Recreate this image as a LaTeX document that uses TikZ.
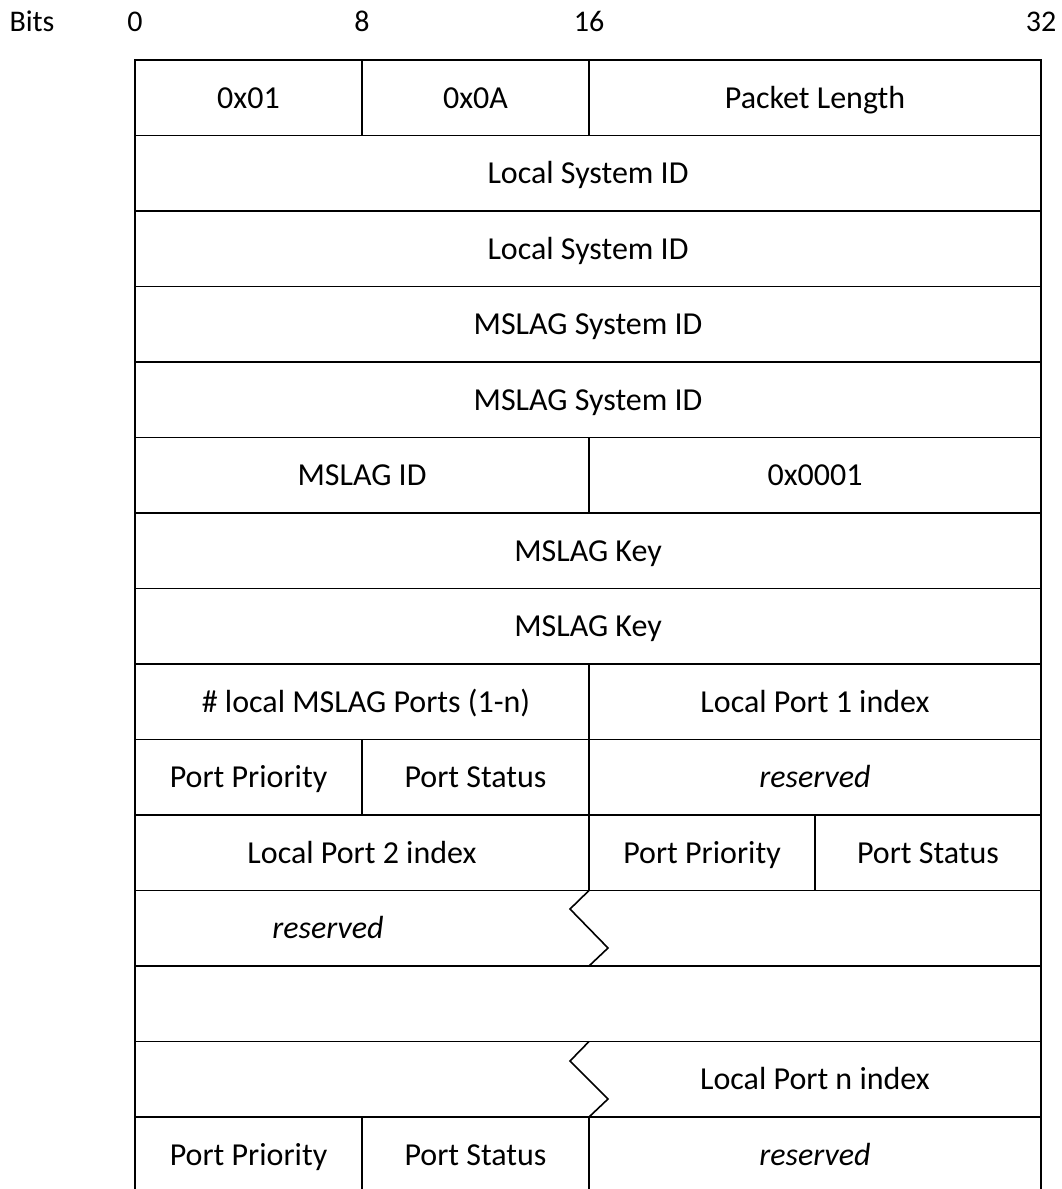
\documentclass[tikz,border=0pt]{standalone}
\usepackage{fontspec}
\setmainfont{Carlito}
\begin{document}
\begin{tikzpicture}[x=1pt,y=-1pt,
  grid/.style={line width=1.6pt, line cap=rect},
  cell/.style={inner sep=0pt, anchor=base, font=\fontsize{32}{38}\selectfont},
  hdr/.style={inner sep=0pt, anchor=base, font=\fontsize{30}{36}\selectfont}]
\useasboundingbox (0,0) rectangle (1061,1189);

% column positions (bit offsets 0, 8, 16, 24, 32)
\def\ca{135}\def\cb{362}\def\cc{589}\def\cd{815}\def\ce{1041}
% baseline offset below a row's middle line
\def\bo{10.5}

% header
\node[hdr] (bits) at (32,31.7) {Bits};
\node[hdr] (b0) at (\ca,31.7) {0};
\node[hdr] (b8) at (\cb,31.7) {8};
\node[hdr] (b16) at (\cc,31.7) {16};
\node[hdr] (b32) at (\ce,31.7) {32};

% horizontal rules, one per row boundary
\foreach \y in {60,135.5,211,286.5,362,437.5,513,588.5,664,739.5,815,890.5,966,1041.5,1117}
  \draw[grid] (\ca,\y) -- (\ce,\y);

% outer sides, left open at the bottom
\draw[grid] (\ca,60) -- (\ca,1189);
\draw[grid] (\ce,60) -- (\ce,1189);

% field dividers
\draw[grid] (\cb,60) -- (\cb,135.5);
\draw[grid] (\cc,60) -- (\cc,135.5);
\draw[grid] (\cc,437.5) -- (\cc,513);
\draw[grid] (\cc,664) -- (\cc,890.5);
\draw[grid] (\cb,739.5) -- (\cb,815);
\draw[grid] (\cd,815) -- (\cd,890.5);
\draw[grid] (\cb,1117) -- (\cb,1189);
\draw[grid] (\cc,1117) -- (\cc,1189);

% break marks for the variable-length port list
\draw[grid, line join=miter, line cap=butt] (\cc,890.5) -- (570,909) -- (608,948) -- (\cc,966);
\draw[grid, line join=miter, line cap=butt] (\cc,1041.5) -- (570,1061) -- (608,1099) -- (\cc,1117);

% field labels (y = row middle + baseline offset)
\node[cell] (f01) at (248.5,98+\bo) {0x01};
\node[cell] (f0a) at (475.5,98+\bo) {0x0A};
\node[cell] (flen) at (815,98+\bo) {Packet Length};
\node[cell] (lsid1) at (588,173+\bo) {Local System ID};
\node[cell] (lsid2) at (588,249+\bo) {Local System ID};
\node[cell] (msid1) at (588,324+\bo) {MSLAG System ID};
\node[cell] (msid2) at (588,400+\bo) {MSLAG System ID};
\node[cell] (mid) at (362,475+\bo) {MSLAG ID};
\node[cell] (m0001) at (815,475+\bo) {0x0001};
\node[cell] (key1) at (588,551+\bo) {MSLAG Key};
\node[cell] (key2) at (588,626+\bo) {MSLAG Key};
\node[cell] (nports) at (366,702+\bo) {\# local MSLAG Ports (1-n)};
\node[cell] (lp1) at (815,702+\bo) {Local Port 1 index};
\node[cell] (pp1) at (248.5,777+\bo) {Port Priority};
\node[cell] (ps1) at (475.5,777+\bo) {Port Status};
\node[cell] (rs1) at (815,777+\bo) {\itshape reserved};
\node[cell] (lp2) at (362,853+\bo) {Local Port 2 index};
\node[cell] (pp2) at (702,853+\bo) {Port Priority};
\node[cell] (ps2) at (928,853+\bo) {Port Status};
\node[cell] (rs2) at (328,928+\bo) {\itshape reserved};
\node[cell] (lpn) at (815,1079+\bo) {Local Port n index};
\node[cell] (ppn) at (248.5,1155+\bo) {Port Priority};
\node[cell] (psn) at (475.5,1155+\bo) {Port Status};
\node[cell] (rsn) at (815,1155+\bo) {\itshape reserved};
\end{tikzpicture}
\end{document}
